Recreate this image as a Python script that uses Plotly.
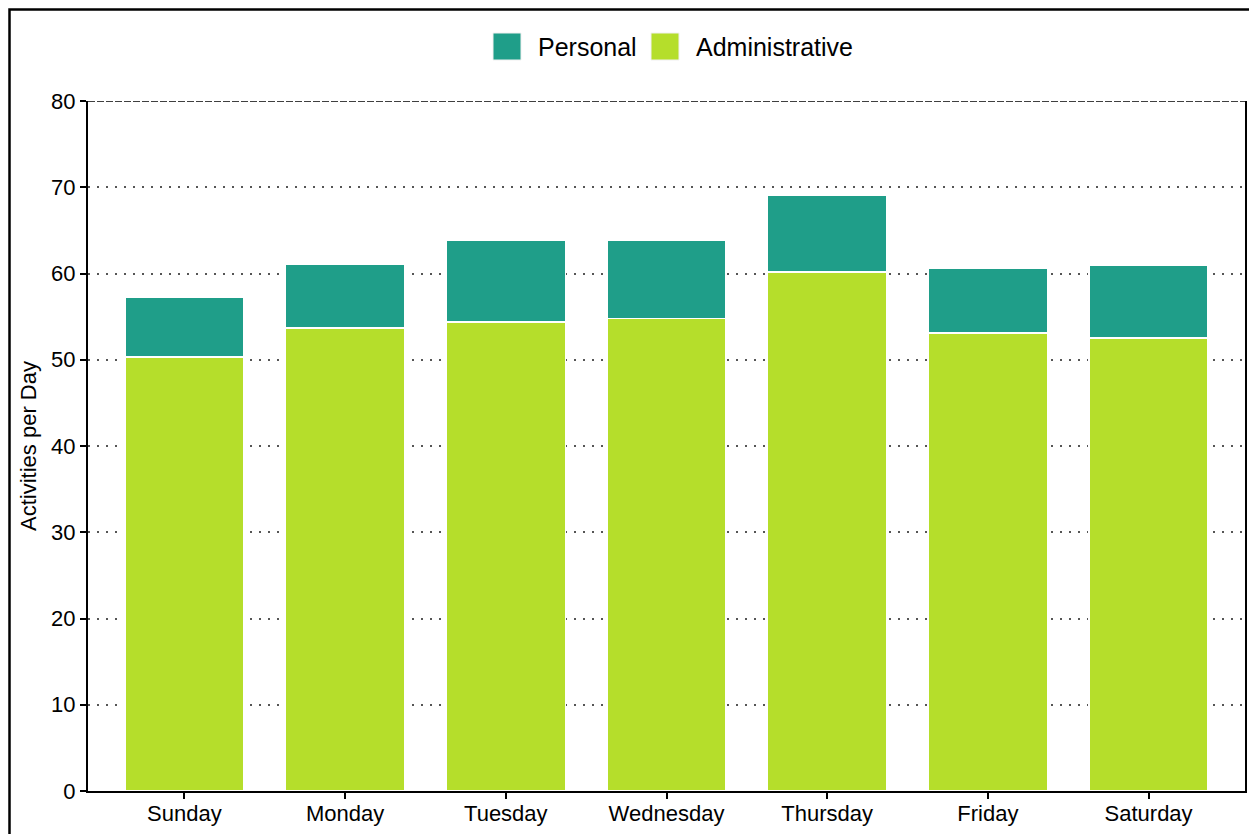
import plotly.graph_objects as go

days = ["Sunday", "Monday", "Tuesday", "Wednesday", "Thursday", "Friday", "Saturday"]
administrative = [50.3, 53.7, 54.4, 54.8, 60.2, 53.1, 52.5]
personal = [6.9, 7.4, 9.4, 9.1, 8.9, 7.5, 8.4]

COL_PERSONAL = "#1F9E89"
COL_ADMIN = "#B5DE2B"
FONT = "Liberation Sans, Arial, sans-serif"

# page body adds an 8px offset; figure pixel coords = screen - 8
W, H = 1249, 826
ML, MR, MT, MB = 80, 12, 93, 43
PW, PH = W - ML - MR, H - MT - MB


def px_x(x):
    return (x - ML) / PW


def px_y(y):
    return 1 - (y - MT) / PH


fig = go.Figure()
fig.add_trace(go.Bar(x=days, y=administrative, name="Administrative",
                     marker=dict(color=COL_ADMIN, line=dict(color="white", width=1.5)),
                     width=0.74, showlegend=False))
fig.add_trace(go.Bar(x=days, y=personal, name="Personal",
                     marker=dict(color=COL_PERSONAL, line=dict(color="white", width=1.5)),
                     width=0.74, showlegend=False))

shapes = []
# top dashed line at 80
shapes.append(dict(type="line", xref="paper", yref="y", x0=0, x1=1, y0=80, y1=80,
                   line=dict(color="black", width=1.5, dash="7px,2px")))
# outer frame
shapes.append(dict(type="rect", xref="paper", yref="paper",
                   x0=px_x(1.5), x1=px_x(1270), y0=px_y(850), y1=px_y(1.5),
                   line=dict(color="black", width=2.5), fillcolor="rgba(0,0,0,0)"))

# custom legend
legend_items = [("Personal", COL_PERSONAL, 485), ("Administrative", COL_ADMIN, 643)]
annotations = []
for name, col, x0 in legend_items:
    shapes.append(dict(type="rect", xref="paper", yref="paper",
                       x0=px_x(x0), x1=px_x(x0 + 28), y0=px_y(52), y1=px_y(25),
                       line=dict(color="#f0f0f0", width=1), fillcolor=col))
    annotations.append(dict(text=name, xref="paper", yref="paper", x=px_x(x0 + 43), y=px_y(39),
                            xanchor="left", yanchor="middle", showarrow=False,
                            font=dict(family=FONT, size=25, color="black")))

fig.update_layout(
    width=W, height=H,
    margin=dict(l=ML, r=MR, t=MT, b=MB, autoexpand=False),
    barmode="stack",
    plot_bgcolor="white", paper_bgcolor="white",
    font=dict(family=FONT, size=22, color="black"),
    shapes=shapes, annotations=annotations,
    xaxis=dict(range=[-0.6, 6.6], showline=True, linecolor="black", linewidth=2,
               ticks="outside", ticklen=6, tickwidth=2, tickcolor="black",
               showgrid=False, tickfont=dict(size=22), automargin=False,
               ticklabelstandoff=-4),
    yaxis=dict(range=[0, 80], dtick=10, showline=True, linecolor="black", linewidth=2,
               mirror=True, ticks="outside", ticklen=6, tickwidth=2, tickcolor="black",
               showgrid=True, gridcolor="#555555", gridwidth=1.5, griddash="2px,7px",
               zeroline=False, tickfont=dict(size=22), automargin=False,
               title=dict(text="Activities per Day", font=dict(size=22), standoff=8)),
)

fig.write_html("out.html")
